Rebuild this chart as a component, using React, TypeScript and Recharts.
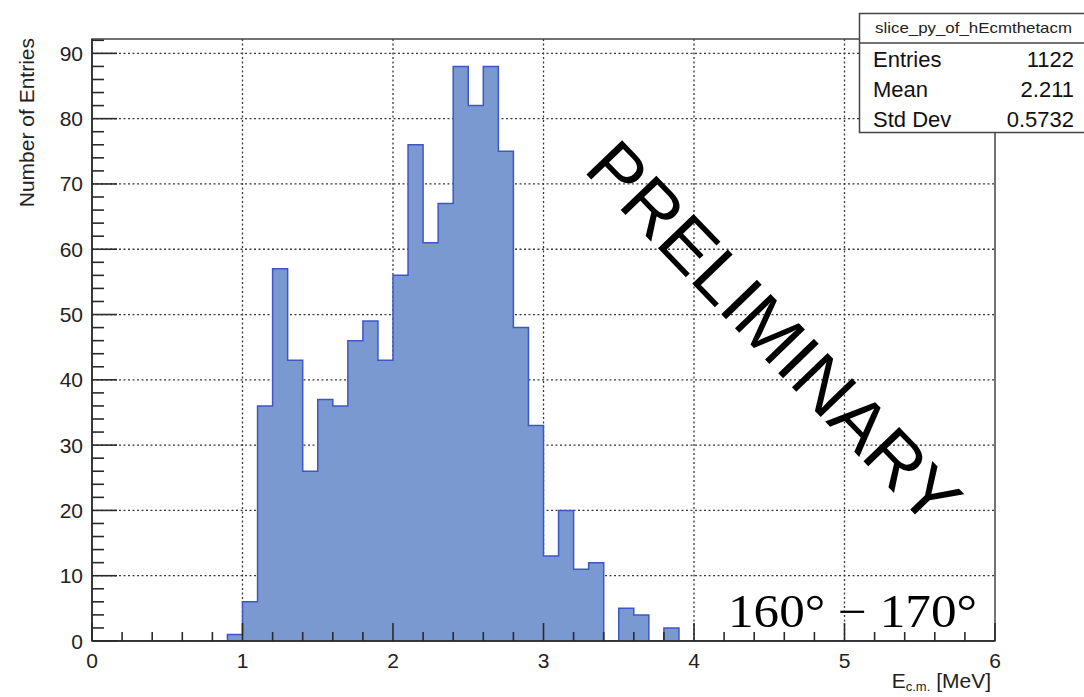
import React from 'react';
import { ComposedChart, Area, XAxis, YAxis, CartesianGrid, ReferenceArea } from 'recharts';

// Histogram bins (low edges, MeV) and counts
const binLowEdges = [0.9, 1.0, 1.1, 1.2, 1.3, 1.4, 1.5, 1.6, 1.7, 1.8, 1.9, 2.0, 2.1, 2.2, 2.3, 2.4, 2.5, 2.6, 2.7, 2.8, 2.9, 3.0, 3.1, 3.2, 3.3, 3.4, 3.5, 3.6, 3.7, 3.8];
const binCounts = [1, 6, 36, 57, 43, 26, 37, 36, 46, 49, 43, 56, 76, 61, 67, 88, 82, 88, 75, 48, 33, 13, 20, 11, 12, 0, 5, 4, 0, 2];
const binWidth = 0.1;

const xDomain = [0, 6];
const yDomain = [0, 92.2];
const xMajorTicks = [0, 1, 2, 3, 4, 5, 6];
const yMajorTicks = [0, 10, 20, 30, 40, 50, 60, 70, 80, 90];
const xGridValues = [1, 2, 3, 4, 5];
const yGridValues = [10, 20, 30, 40, 50, 60, 70, 80, 90];
const xMinorStep = 0.2;
const yMinorStep = 2;

const statsTitle = 'slice_py_of_hEcmthetacm';
const statsLabels = ['Entries', 'Mean', 'Std Dev'];
const statsValues = ['1122', '2.211', '0.5732'];

const xTitleMain = 'E';
const xTitleSub = 'c.m.';
const xTitleUnit = ' [MeV]';
const yTitle = 'Number of Entries';
const watermark = 'PRELIMINARY';
const angleLabel = '160° − 170°';

const xTicks: number[] = [];
for (let i = 0; i <= Math.round((xDomain[1] - xDomain[0]) / xMinorStep); i++) {
  xTicks.push(Number((xDomain[0] + i * xMinorStep).toFixed(2)));
}
const yTicks: number[] = [];
for (let v = 0; v <= yDomain[1]; v += yMinorStep) yTicks.push(v);

const lastEdge = binLowEdges[binLowEdges.length - 1];
const data = [
  { x: xDomain[0], count: 0 },
  ...binLowEdges.map((e, i) => ({ x: e, count: binCounts[i] })),
  { x: Number((lastEdge + binWidth).toFixed(2)), count: 0 },
  { x: xDomain[1], count: 0 },
];

const FONT = '"Liberation Sans", Arial, Helvetica, sans-serif';
const AXIS = '#2a2a2a';

const isMajor = (v: number, list: number[]) => list.some((m) => Math.abs(m - v) < 1e-6);

const XTick = (props: any) => {
  const { x, y, payload } = props;
  const v = payload.value;
  const major = isMajor(v, xMajorTicks);
  return (
    <g>
      <line x1={x} x2={x} y1={y} y2={y - (major ? 18 : 9)} stroke={AXIS} strokeWidth={1.6} />
      {major && (
        <text x={x} y={y + 27} textAnchor="middle" fontSize={21} fill="#222" fontFamily={FONT}>
          {String(Math.round(v))}
        </text>
      )}
    </g>
  );
};

const YTick = (props: any) => {
  const { x, y, payload } = props;
  const v = payload.value;
  const major = isMajor(v, yMajorTicks);
  return (
    <g>
      <line x1={x} x2={x + (major ? 25 : 12)} y1={y} y2={y} stroke={AXIS} strokeWidth={1.6} />
      {major && (
        <text x={x - 9} y={y + 7.5} textAnchor="end" fontSize={21} fill="#222" fontFamily={FONT}>
          {String(v)}
        </text>
      )}
    </g>
  );
};

export default function App() {
  return (
    <div style={{ position: 'absolute', left: 0, top: 0, width: 1084, height: 697, background: '#fff' }}>
      <ComposedChart width={1084} height={697} data={data} margin={{ top: 39, right: 89, bottom: 0, left: 0 }}>
        <CartesianGrid
          stroke="#3a3a3a"
          strokeWidth={1.3}
          strokeDasharray="2 2.5"
          verticalValues={xGridValues}
          horizontalValues={yGridValues}
        />
        <Area
          type="stepAfter"
          dataKey="count"
          stroke="#3f56c6"
          strokeWidth={1.5}
          fill="#7b99d1"
          fillOpacity={1}
          baseValue={0}
          dot={false}
          activeDot={false}
          isAnimationActive={false}
        />
        <ReferenceArea
          x1={xDomain[0]}
          x2={xDomain[1]}
          y1={yDomain[0]}
          y2={yDomain[1]}
          fill="none"
          fillOpacity={0}
          stroke="#444"
          strokeWidth={1.5}
          ifOverflow="visible"
        />
        <XAxis
          dataKey="x"
          type="number"
          domain={xDomain}
          ticks={xTicks}
          interval={0}
          allowDataOverflow
          height={56}
          tickSize={0}
          tickMargin={0}
          tickLine={false}
          axisLine={{ stroke: AXIS, strokeWidth: 1.6 }}
          tick={(p: any) => <XTick {...p} />}
        />
        <YAxis
          type="number"
          domain={yDomain}
          ticks={yTicks}
          interval={0}
          allowDataOverflow
          width={92}
          tickSize={0}
          tickMargin={0}
          tickLine={false}
          axisLine={{ stroke: AXIS, strokeWidth: 1.6 }}
          tick={(p: any) => <YTick {...p} />}
        />
      </ComposedChart>
      <svg
        width={1084}
        height={697}
        style={{ position: 'absolute', left: 0, top: 0, pointerEvents: 'none' }}
      >
        {/* Y axis title */}
        <text transform="rotate(-90)" x={-38} y={34} textAnchor="end" fontSize={21} fill="#222" fontFamily={FONT}>
          {yTitle}
        </text>
        {/* X axis title */}
        <text x={991} y={688} textAnchor="end" fontSize={21} fill="#222" fontFamily={FONT}>
          <tspan>{xTitleMain}</tspan>
          <tspan fontSize={13} dy={3}>{xTitleSub}</tspan>
          <tspan dy={-3}>{xTitleUnit}</tspan>
        </text>
        {/* Stats box */}
        <rect x={859.5} y={13.5} width={240} height={119} fill="#fff" stroke="#444" strokeWidth={1.5} />
        <line x1={859.5} x2={1084} y1={43} y2={43} stroke="#444" strokeWidth={1.5} />
        <text x={875} y={33} fontSize={15} textLength={197} lengthAdjust="spacingAndGlyphs" fill="#222" fontFamily={FONT}>
          {statsTitle}
        </text>
        {statsLabels.map((l, i) => (
          <text key={l} x={873} y={67 + i * 30} fontSize={22} fill="#111" fontFamily={FONT}>
            {l}
          </text>
        ))}
        {statsValues.map((v, i) => (
          <text key={v} x={1074} y={67 + i * 30} textAnchor="end" fontSize={22} fill="#111" fontFamily={FONT}>
            {v}
          </text>
        ))}
        {/* Watermark */}
        <text
          x={756}
          y={350}
          transform="rotate(46 756 350)"
          textAnchor="middle"
          fontSize={72}
          textLength={500}
          lengthAdjust="spacingAndGlyphs"
          fill="#000"
          fontFamily={FONT}
        >
          {watermark}
        </text>
        {/* Angle range label */}
        <text
          x={728}
          y={627}
          fontSize={46}
          textLength={249}
          lengthAdjust="spacingAndGlyphs"
          fill="#000"
          fontFamily='"Liberation Serif", "DejaVu Serif", serif'
        >
          {angleLabel}
        </text>
      </svg>
    </div>
  );
}
